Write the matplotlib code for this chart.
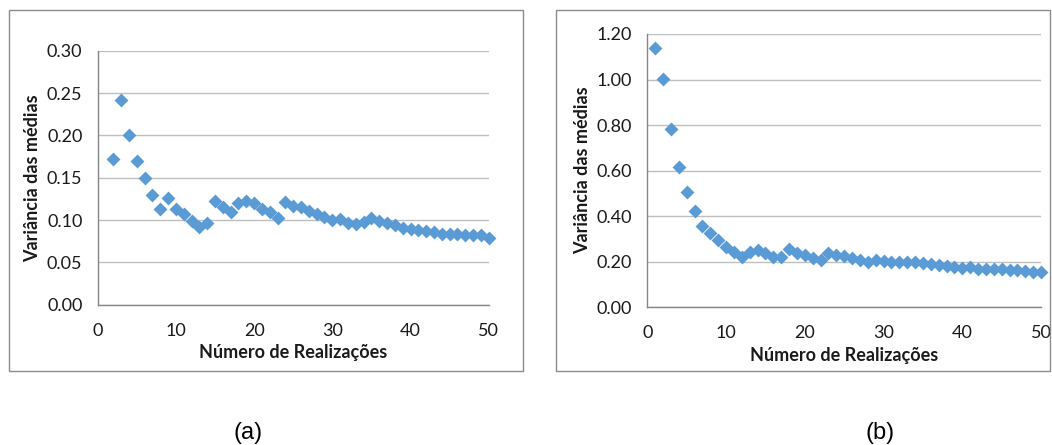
import matplotlib
matplotlib.use("Agg")
from matplotlib import pyplot as plt
from matplotlib.patches import Rectangle

# dados: variancia das medias vs numero de realizacoes
realiz_a = list(range(2, 51))
var_a = [0.172, 0.242, 0.200, 0.170, 0.150, 0.129, 0.113, 0.126, 0.113, 0.107,
         0.099, 0.092, 0.097, 0.122, 0.115, 0.109, 0.120, 0.123, 0.120, 0.113,
         0.109, 0.102, 0.121, 0.117, 0.115, 0.111, 0.107, 0.103, 0.100, 0.101,
         0.097, 0.095, 0.098, 0.102, 0.099, 0.097, 0.094, 0.091, 0.089, 0.088,
         0.087, 0.086, 0.084, 0.084, 0.083, 0.082, 0.082, 0.082, 0.079]

realiz_b = list(range(1, 51))
var_b = [1.137, 1.004, 0.784, 0.615, 0.505, 0.423, 0.359, 0.328, 0.296, 0.266,
         0.243, 0.222, 0.244, 0.253, 0.237, 0.221, 0.222, 0.255, 0.237, 0.230,
         0.218, 0.208, 0.237, 0.228, 0.225, 0.218, 0.208, 0.200, 0.208, 0.205,
         0.200, 0.198, 0.198, 0.198, 0.193, 0.189, 0.186, 0.183, 0.177, 0.174,
         0.176, 0.170, 0.167, 0.170, 0.168, 0.162, 0.162, 0.160, 0.157, 0.157]

yticks_a = [0.00, 0.05, 0.10, 0.15, 0.20, 0.25, 0.30]
yticks_b = [0.00, 0.20, 0.40, 0.60, 0.80, 1.00, 1.20]
xticks = [0, 10, 20, 30, 40, 50]

W, H = 1052, 445
fig = plt.figure(figsize=(W / 100, H / 100), dpi=100)
font = ["Lato", "DejaVu Sans"]


def px_axes(x0, y0, x1, y1):
    return fig.add_axes([x0 / W, 1 - y1 / H, (x1 - x0) / W, (y1 - y0) / H])


def panel_box(x0, y0, x1, y1):
    fig.patches.append(Rectangle((x0 / W, 1 - y1 / H), (x1 - x0) / W, (y1 - y0) / H,
                                 transform=fig.transFigure, fill=False,
                                 edgecolor="#8c8c8c", linewidth=1.0))


def draw(ax, x, y, yticks):
    ax.scatter(x, y, marker="D", s=50, color="#5B9BD5", zorder=3, clip_on=False,
               linewidths=0)
    ax.set_xlim(0, 50)
    ax.set_ylim(yticks[0], yticks[-1])
    ax.set_xticks(xticks)
    ax.set_yticks(yticks)
    ax.set_yticklabels(["%.2f" % v for v in yticks], family=font, fontsize=13)
    ax.set_xticklabels([str(v) for v in xticks], family=font, fontsize=13)
    ax.grid(axis="y", color="#bfbfbf", linewidth=1.0, zorder=0)
    ax.set_axisbelow(True)
    for s in ["top", "right"]:
        ax.spines[s].set_visible(False)
    for s in ["left", "bottom"]:
        ax.spines[s].set_color("#868686")
        ax.spines[s].set_linewidth(1.0)
    ax.tick_params(length=0, colors="#1a1a1a")
    ax.tick_params(axis="y", pad=11)
    ax.tick_params(axis="x", pad=13)
    ax.set_xlabel("Número de Realizações", family=font, fontsize=13,
                  fontweight="bold", labelpad=4, color="#1a1a1a")
    ax.set_ylabel("Variância das médias", family=font, fontsize=13,
                  fontweight="bold", labelpad=4, color="#1a1a1a")


panel_box(9, 10, 523, 371)
ax1 = px_axes(97.7, 50.7, 488.7, 304.7)
draw(ax1, realiz_a, var_a, yticks_a)

panel_box(556, 10, 1050, 371)
ax2 = px_axes(647.3, 34, 1041, 307.3)
draw(ax2, realiz_b, var_b, yticks_b)

fig.text(248 / W, 1 - 433 / H, "(a)", family="Liberation Sans", fontsize=17,
         ha="center", va="center")
fig.text(880 / W, 1 - 433 / H, "(b)", family="Liberation Sans", fontsize=17,
         ha="center", va="center")

fig.savefig("out.png", dpi=100)
